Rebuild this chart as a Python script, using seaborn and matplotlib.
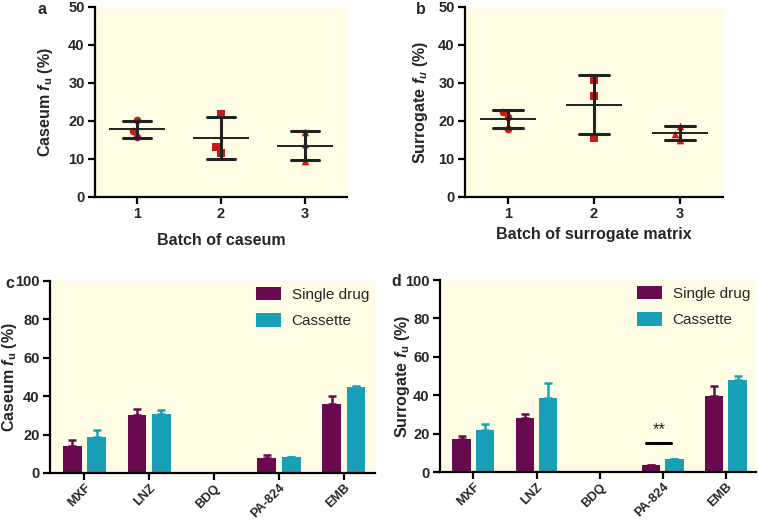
import numpy as np
import pandas as pd
import matplotlib
matplotlib.use("Agg")
import matplotlib.pyplot as plt
import seaborn as sns

# ---------------- data ----------------
batches = ["1", "2", "3"]
caseum_b1 = [20.2, 17.5, 15.8]
caseum_b2 = [21.75, 13.2, 11.6]
caseum_b3 = [17.0, 14.0, 9.5]
surrogate_b1 = [22.5, 21.0, 18.0]
surrogate_b2 = [30.7, 26.7, 15.6]
surrogate_b3 = [18.8, 16.6, 15.1]

drugs = ["MXF", "LNZ", "BDQ", "PA-824", "EMB"]
groups = ["Single drug", "Cassette"]
caseum_single = [14.0, 30.0, 0.0, 7.7, 36.1]
caseum_single_err = [3.2, 3.2, 0.0, 1.6, 3.9]
caseum_cassette = [19.0, 30.9, 0.0, 8.1, 44.9]
caseum_cassette_err = [3.6, 1.9, 0.0, 0.1, 0.2]
surr_single = [17.2, 28.3, 0.0, 3.8, 39.5]
surr_single_err = [1.4, 2.0, 0.0, 0.0, 5.4]
surr_cassette = [21.9, 38.6, 0.0, 7.0, 47.7]
surr_cassette_err = [3.1, 7.5, 0.0, 0.0, 2.2]

# ---------------- style ----------------
sns.set_theme(style="ticks")
plt.rcParams["font.family"] = ["Liberation Sans", "DejaVu Sans"]
plt.rcParams["mathtext.fontset"] = "custom"
plt.rcParams["mathtext.rm"] = "Liberation Sans:bold"
plt.rcParams["mathtext.it"] = "Liberation Sans:italic:bold"
plt.rcParams["mathtext.bf"] = "Liberation Sans:bold"

BG = "#FFFDE3"
C_SINGLE = "#690A4F"
C_CASS = "#1A9FB8"
RED = "#CC1818"
DARK = "#222222"
TICK_FS = 10.5
LAB_FS = 11.5

fig = plt.figure(figsize=(7.58, 5.23), dpi=100)
W, H = 758, 523


def add_ax(l, t, r, b):
    return fig.add_axes([l / W, 1 - b / H, (r - l) / W, (b - t) / H])


ax_a = add_ax(95, 7, 347, 197)
ax_b = add_ax(465, 7, 723, 197)
ax_c = add_ax(50, 281, 375, 473)
ax_d = add_ax(440, 280, 756, 472)


def style_ax(ax, xfs=TICK_FS, xpad=2.5):
    ax.set_facecolor(BG)
    for s in ["top", "right"]:
        ax.spines[s].set_visible(False)
    for s in ["left", "bottom"]:
        ax.spines[s].set_linewidth(1.6)
        ax.spines[s].set_color("black")
    ax.tick_params(axis="both", width=1.6, length=5, color="black",
                   labelsize=TICK_FS, pad=2.5)
    ax.tick_params(axis="x", labelsize=xfs, pad=xpad)
    for lab in ax.get_xticklabels() + ax.get_yticklabels():
        lab.set_fontweight("bold")


def scatter_panel(ax, vals, xlabel, ylabel, ylab_x, xlab_y):
    df = pd.DataFrame({
        "batch": np.repeat(batches, 3),
        "fu": np.concatenate(vals),
    })
    markers = ["o", "s", "^"]
    for bt, m in zip(batches, markers):
        sub = df[df["batch"] == bt]
        sns.swarmplot(data=sub, x="batch", y="fu", order=batches, marker=m,
                      color=RED, size=5.5, ax=ax, zorder=2)
    sns.pointplot(data=df, x="batch", y="fu", order=batches, estimator="mean",
                  errorbar="sd", capsize=0.34, color=DARK, linestyle="none",
                  marker="_", markersize=40, markeredgewidth=1.4,
                  err_kws={"linewidth": 2.2}, ax=ax, zorder=3)
    ax.set_xlim(-0.5, 2.5)
    ax.set_ylim(0, 50)
    ax.set_yticks(range(0, 51, 10))
    ax.set_xlabel(xlabel, fontsize=LAB_FS, fontweight="bold")
    ax.set_ylabel(ylabel, fontsize=LAB_FS, fontweight="bold")
    ax.yaxis.set_label_coords(ylab_x, 0.5)
    ax.xaxis.set_label_coords(0.5, xlab_y)
    style_ax(ax)


scatter_panel(ax_a, [caseum_b1, caseum_b2, caseum_b3], "Batch of caseum",
              r"Caseum $f_{\mathrm{u}}$ (%)", -0.16, -0.19)
scatter_panel(ax_b, [surrogate_b1, surrogate_b2, surrogate_b3],
              "Batch of surrogate matrix", r"Surrogate $f_u$ (%)", -0.135, -0.158)


def bar_panel(ax, single, single_err, cass, cass_err, ylabel, ylab_x):
    df = pd.DataFrame({
        "drug": drugs * 2,
        "group": np.repeat(groups, len(drugs)),
        "fu": single + cass,
    })
    sns.barplot(data=df, x="drug", y="fu", hue="group", order=drugs,
                hue_order=groups, palette=[C_SINGLE, C_CASS], width=0.75,
                gap=0.23, errorbar=None, saturation=1, linewidth=0, ax=ax)
    for cont, errs, col in zip(ax.containers, [single_err, cass_err],
                               [C_SINGLE, C_CASS]):
        xs = [p.get_x() + p.get_width() / 2 for p in cont.patches]
        hs = [p.get_height() for p in cont.patches]
        for x, h, e in zip(xs, hs, errs):
            if h > 0:
                ax.errorbar(x, h, yerr=[[0], [e]], color=col, capsize=3.2,
                            elinewidth=1.8, capthick=1.8, zorder=1)
    ax.set_xlim(-0.53, 4.48)
    ax.set_ylim(0, 100)
    ax.set_yticks(range(0, 101, 20))
    ax.set_xlabel("")
    ax.set_ylabel(ylabel, fontsize=LAB_FS, fontweight="bold")
    ax.yaxis.set_label_coords(ylab_x, 0.5)
    style_ax(ax, xfs=9.2, xpad=1.5)
    for lab in ax.get_xticklabels():
        lab.set_rotation(45)
        lab.set_ha("right")
        lab.set_rotation_mode("anchor")
    leg = ax.legend(loc="upper right", frameon=False, fontsize=11,
                    handlelength=1.6, handleheight=0.95, handletextpad=0.7,
                    labelspacing=0.75, borderaxespad=0.0,
                    bbox_to_anchor=(1.0, 1.0))
    leg.set_title(None)


bar_panel(ax_c, caseum_single, caseum_single_err, caseum_cassette,
          caseum_cassette_err, r"Caseum $f_{\mathrm{u}}$ (%)", -0.095)
bar_panel(ax_d, surr_single, surr_single_err, surr_cassette, surr_cassette_err,
          r"Surrogate $f_{\mathrm{u}}$ (%)", -0.09)

# significance marker on PA-824 in panel d
pa = drugs.index("PA-824")
ax_d.plot([pa - 0.26, pa + 0.14], [15, 15], color="black", lw=2.2)
ax_d.text(pa - 0.05, 18.0, "**", ha="center", va="bottom", fontsize=12)

# panel letters
for letter, x, y in [("a", 42, 10), ("b", 421, 10), ("c", 10, 284), ("d", 396, 282)]:
    fig.text(x / W, 1 - y / H, letter, fontsize=11.5, fontweight="bold",
             ha="center", va="center")

fig.savefig("out.png", dpi=100)
